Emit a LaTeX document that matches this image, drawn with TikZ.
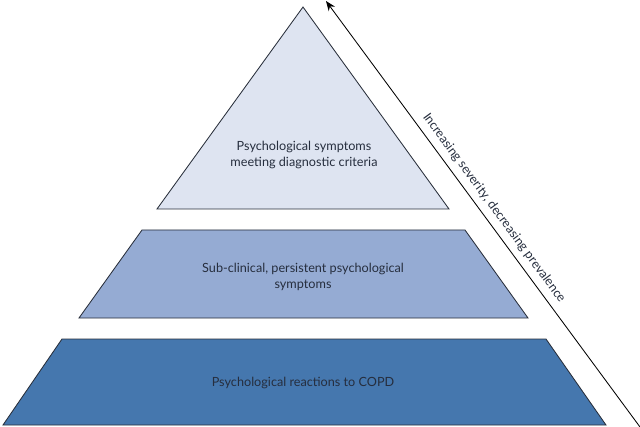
\documentclass[tikz,border=0pt]{standalone}
\usepackage{fontspec}
\setmainfont{Lato}
\usepackage{xcolor}
\usepackage{tikz}
\usetikzlibrary{positioning,arrows.meta}
\definecolor{pyrtop}{RGB}{222,228,241}
\definecolor{pyrmid}{RGB}{149,171,211}
\definecolor{pyrbot}{RGB}{69,119,174}
\definecolor{pyrline}{RGB}{40,46,58}
\definecolor{pyrtext}{RGB}{38,46,62}

\begin{document}
\begin{tikzpicture}[
  x=0.025cm, y=-0.025cm,
  level/.style={draw=pyrline, line width=0.6pt},
  lbl/.style={text=pyrtext, align=center, inner sep=0pt,
    font=\fontsize{9}{11.4}\selectfont},
  arr/.style={-{Stealth[length=7pt,width=5.5pt]}, line width=0.6pt, color=black}
]
\useasboundingbox (0,0) rectangle (640,427);

\draw[level,fill=pyrtop] (303,7) -- (449,209) -- (157,209) -- cycle;
\draw[level,fill=pyrmid] (142,230) -- (465,230) -- (528,318) -- (79,318) -- cycle;
\draw[level,fill=pyrbot] (62,339) -- (546,339) -- (606,425) -- (3,425) -- cycle;

\node[lbl] (top) at (304,155) {Psychological symptoms\\meeting diagnostic criteria};
\node[lbl] (mid) at (303,277) {Sub-clinical, persistent psychological\\symptoms};
\node[lbl] (bot) at (303,383) {Psychological reactions to COPD};

\coordinate (low) at (640,427);
\coordinate (high) at (326,1);
\draw[arr] (low) -- (high);
\node[lbl, rotate=-53.6] (sev) at (494,208) {Increasing severity, decreasing prevalence};
\end{tikzpicture}
\end{document}
